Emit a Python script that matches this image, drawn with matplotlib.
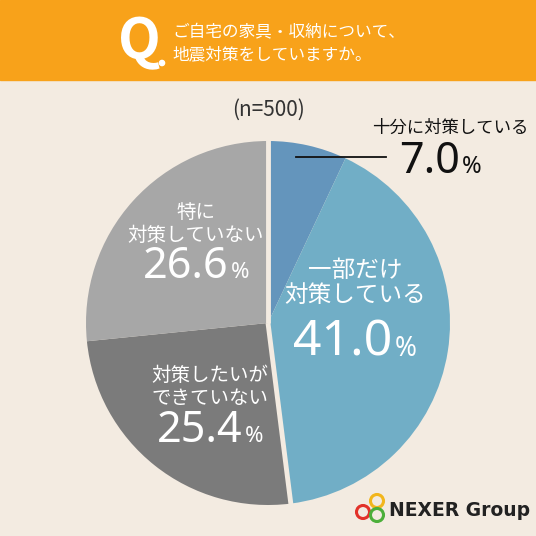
import numpy as np
import matplotlib.pyplot as plt
from matplotlib.patches import Rectangle, Circle

plt.rcParams['font.family'] = ['Noto Sans CJK JP', 'DejaVu Sans']

# data
labels = ['十分に対策している', '一部だけ\n対策している', '対策したいが\nできていない', '特に\n対策していない']
values = [7.0, 41.0, 25.4, 26.6]
colors = ['#6495bc', '#71aec6', '#7b7b7b', '#a7a7a7']
question = 'ご自宅の家具・収納について、\n地震対策をしていますか。'
n_text = '(n=500)'

W = 536
bg = '#f3ebe1'
fig = plt.figure(figsize=(5.36, 5.36), dpi=100, facecolor=bg)
ax = fig.add_axes([0, 0, 1, 1])

def Y(y):  # pixel y from top -> data y
    return W - y

# pie
cx, cy, r = 268, Y(323), 182
wedges, _ = ax.pie(values, colors=colors, startangle=90, counterclock=False,
                   center=(cx, cy), radius=r, frame=True,
                   wedgeprops=dict(linewidth=0))
ax.set_xlim(0, W)
ax.set_ylim(0, W)
ax.set_aspect('equal')
ax.axis('off')

# separators at top and between 41.0 and 25.4
for frac in [0.0, (values[0] + values[1]) / 100]:
    a = np.deg2rad(90 - 360 * frac)
    ax.plot([cx, cx + 1.02 * r * np.cos(a)], [cy, cy + 1.02 * r * np.sin(a)],
            color=bg, lw=3.5, solid_capstyle='butt', zorder=5)

# header
ax.add_patch(Rectangle((0, Y(80)), W, 80, color='#f8a21a', zorder=1))
ax.text(118, Y(42), 'Q', fontsize=40, fontweight='bold', color='white',
        ha='left', va='center', family='Noto Sans CJK JP', zorder=2)
ax.add_patch(Circle((162, Y(63)), 2.6, color='white', zorder=2))
ax.text(172, Y(43), question, fontsize=12, color='white', ha='left',
        va='center', linespacing=1.45, zorder=2)

ax.text(268, Y(110), n_text, fontsize=15, color='#333333', ha='center', va='center')

renderer = fig.canvas.get_renderer()

def number(xc, y, val, nsize, psize, color):
    # number followed by a smaller %, group centred on xc
    t = ax.text(0, Y(y), f'{val:.1f}', fontsize=nsize, color=color, ha='left',
                va='baseline', family='Noto Sans', zorder=6)
    p = ax.text(0, Y(y), '%', fontsize=psize, color=color, ha='left',
                va='baseline', family='Noto Sans', zorder=6)
    wt = t.get_window_extent(renderer).width
    wp = p.get_window_extent(renderer).width
    x0 = xc - (wt + wp + 2) / 2
    t.set_x(x0)
    p.set_x(x0 + wt + 2)

# 7.0 label outside
ax.text(450, Y(128), labels[0], fontsize=12.5, color='#111111', ha='center', va='center')
ax.plot([296, 386], [Y(157), Y(157)], color='#111111', lw=1.3, zorder=6)
number(440, 173, values[0], 31, 17, '#111111')

def inner(xc, y_lab, y_num, label, val, lsize, nsize, psize):
    ax.text(xc, Y(y_lab), label, fontsize=lsize, color='white', ha='center',
            va='center', linespacing=1.15, zorder=6)
    number(xc, y_num, val, nsize, psize, 'white')

inner(355, 283, 356, labels[1], values[1], 17, 36, 19)
inner(196, 224, 278, labels[3], values[3], 14, 31, 16)
inner(210, 387, 442, labels[2], values[2], 14, 31, 16)

# logo
for (lx, ly, lc) in [(363, 512, '#e2322a'), (377, 501, '#f2b61c'), (377, 515, '#4caf3a')]:
    ax.add_patch(Circle((lx, Y(ly)), 6.5, fill=False, ec=lc, lw=2.2, zorder=6))
ax.text(389, Y(511), 'NEXER Group', fontsize=13.5, fontweight='bold', color='#222222',
        ha='left', va='center', family='DejaVu Sans', zorder=6)

fig.savefig('out.png', dpi=100, facecolor=bg)
